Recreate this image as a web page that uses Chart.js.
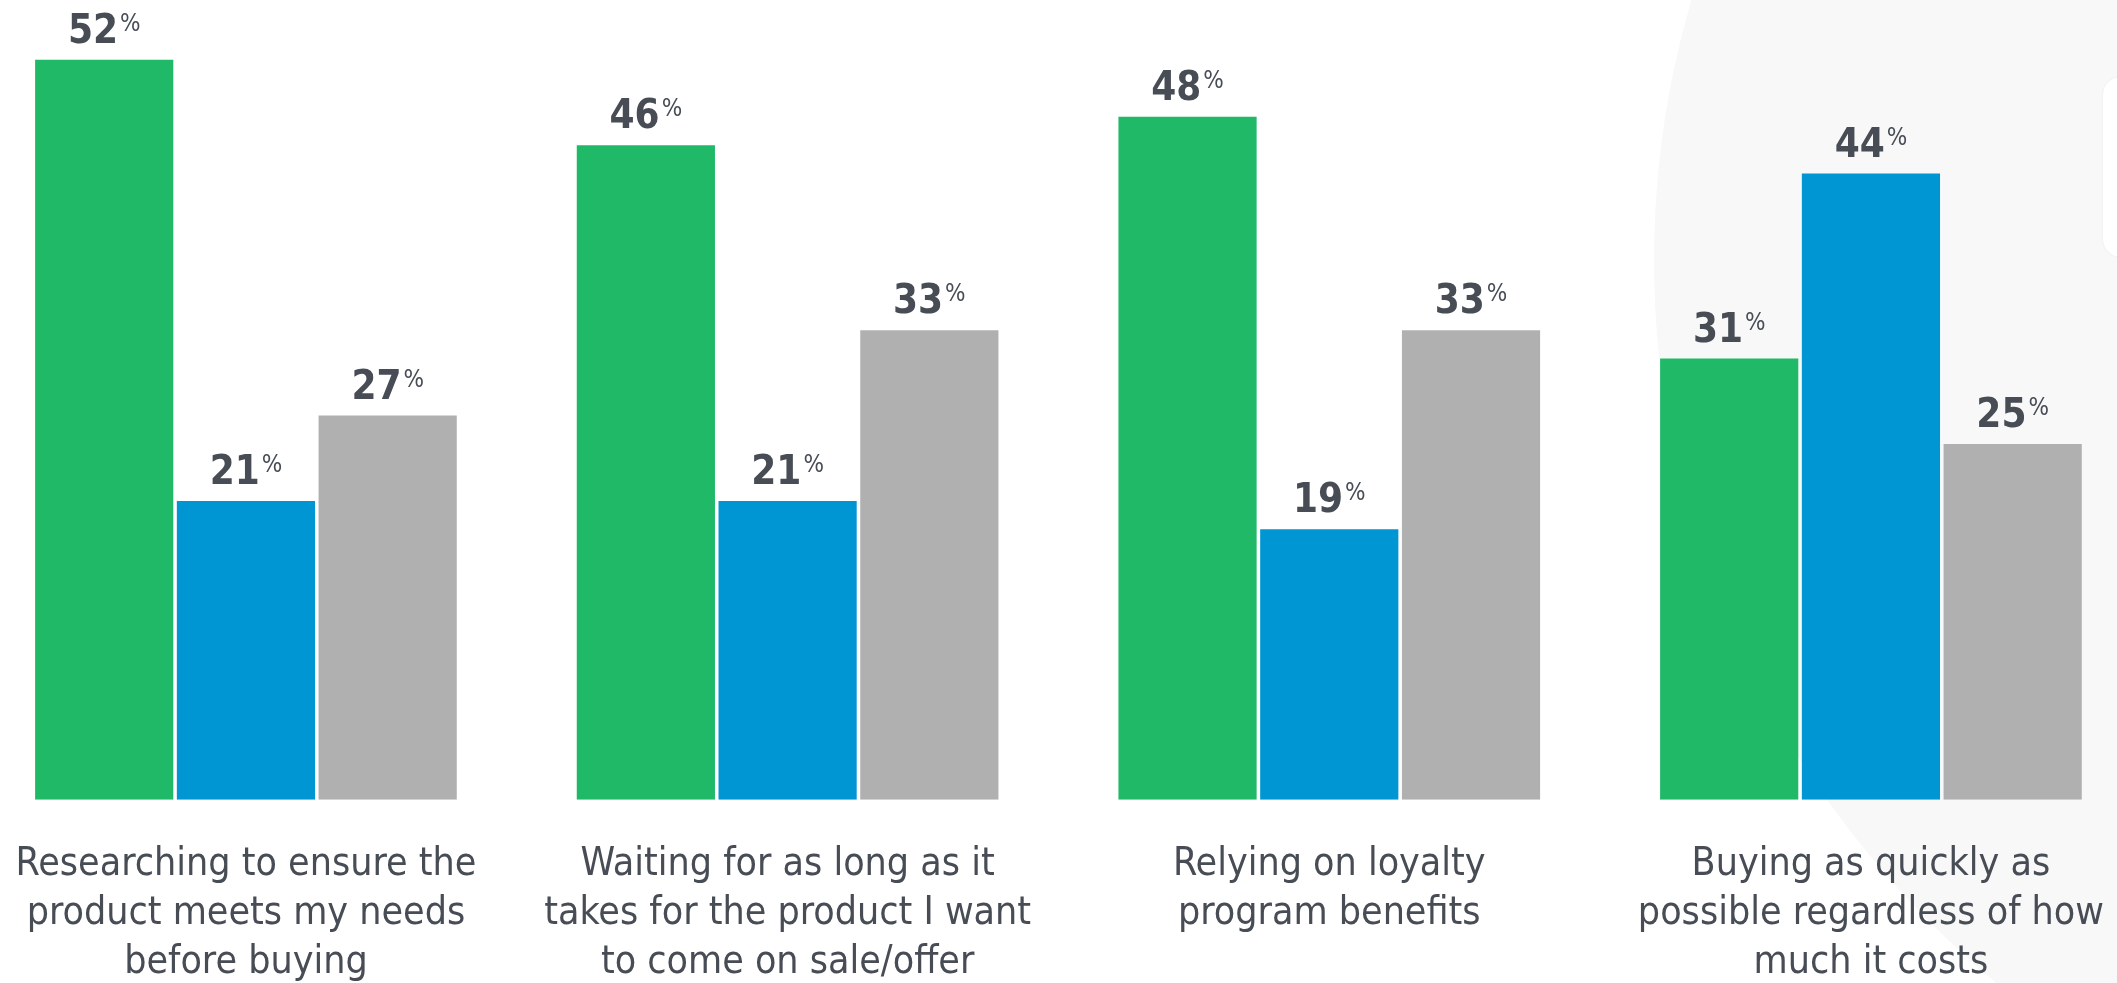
<!DOCTYPE html>
<html>
<head>
<meta charset="utf-8">
<script src="https://cdn.jsdelivr.net/npm/chart.js@4.4.1/dist/chart.umd.min.js"></script>
<style>
  html, body { margin: 0; padding: 0; background: #fff; overflow: hidden; }
  body { width: 2117px; height: 983px; position: relative; }
  .blob { position: absolute; left: 1654px; top: -700px; width: 2000px; height: 1920px; border-radius: 50%; background: #f8f8f8; }
  .tab { position: absolute; left: 2103px; top: 77px; width: 60px; height: 180px; border-radius: 18px; background: #fff; box-shadow: 0 0 2px rgba(0,0,0,0.08); }
  .wrap { position: absolute; left: -25px; top: 0; width: 2170px; height: 1028px; }
</style>
</head>
<body>
<div class="blob"></div>
<div class="tab"></div>
<div class="wrap"><canvas id="canvas"></canvas></div>
<script>
const categories = [
    ['Researching to ensure the', 'product meets my needs', 'before buying'],
    ['Waiting for as long as it', 'takes for the product I want', 'to come on sale/offer'],
    ['Relying on loyalty', 'program benefits'],
    ['Buying as quickly as', 'possible regardless of how', 'much it costs']
];
const greenValues = [52, 46, 48, 31];
const blueValues = [21, 21, 19, 44];
const grayValues = [27, 33, 33, 25];
const seriesColors = ['#20b968', '#0095d3', '#b0b0b0'];

const FONT = "'Liberation Sans Narrow', 'DejaVu Sans Condensed', 'Roboto', sans-serif";
const TEXT = '#474c55';

// draws "52%" with the small raised percent sign above each bar
const valueLabels = {
    id: 'valueLabels',
    afterDatasetsDraw(chart) {
        const ctx = chart.ctx;
        ctx.save();
        ctx.fillStyle = TEXT;
        ctx.textBaseline = 'alphabetic';
        ctx.textAlign = 'left';
        chart.data.datasets.forEach((ds, i) => {
            chart.getDatasetMeta(i).data.forEach((bar, j) => {
                const num = String(ds.data[j]);
                ctx.font = 'bold 40px ' + FONT;
                const w1 = ctx.measureText(num).width;
                ctx.font = '24px ' + FONT;
                const w2 = ctx.measureText('%').width;
                const x0 = bar.x - (w1 + w2 + 2) / 2;
                const yb = bar.y - 17;
                ctx.font = 'bold 40px ' + FONT;
                ctx.fillText(num, x0, yb);
                ctx.font = '24px ' + FONT;
                ctx.fillText('%', x0 + w1 + 2, yb - 12);
            });
        });
        ctx.restore();
    }
};

new Chart('canvas', {
    type: 'bar',
    data: {
        labels: categories,
        datasets: [
            { label: 'Green', data: greenValues, backgroundColor: seriesColors[0] },
            { label: 'Blue', data: blueValues, backgroundColor: seriesColors[1] },
            { label: 'Gray', data: grayValues, backgroundColor: seriesColors[2] }
        ]
    },
    options: {
        responsive: true,
        maintainAspectRatio: false,
        animation: false,
        categoryPercentage: 0.785,
        barPercentage: 0.975,
        layout: { padding: 0 },
        plugins: {
            legend: { display: false },
            tooltip: { enabled: false }
        },
        scales: {
            x: {
                grid: { display: false, drawTicks: false },
                border: { display: false },
                ticks: {
                    color: TEXT,
                    padding: 41,
                    maxRotation: 0,
                    autoSkip: false,
                    font: { family: FONT, size: 39, lineHeight: 1.25 }
                }
            },
            y: {
                display: false,
                min: 0,
                max: 56.2
            }
        }
    },
    plugins: [valueLabels]
});
</script>
</body>
</html>
